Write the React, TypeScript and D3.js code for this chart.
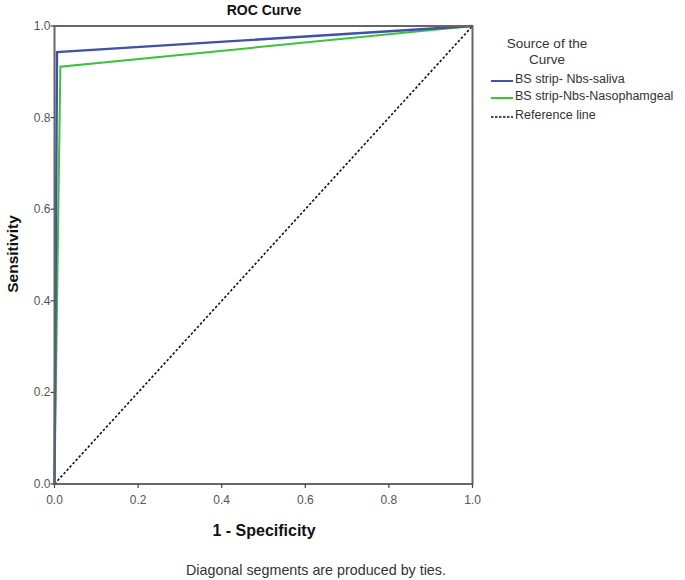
import React from "react";
import * as d3 from "d3";

const ticks = [0, 0.2, 0.4, 0.6, 0.8, 1.0];
const salivaX = [0, 0.006, 1];
const salivaY = [0, 0.943, 1];
const nasoX = [0, 0.014, 1];
const nasoY = [0, 0.911, 1];
const refX = [0, 1];
const refY = [0, 1];
const legendLabels = ["BS strip- Nbs-saliva", "BS strip-Nbs-Nasophamgeal", "Reference line"];
const legendColors = ["#3f51a8", "#3cc23c", "#111"];

export default function App() {
  const W = 685, H = 580;
  const x = d3.scaleLinear().domain([0, 1]).range([54.5, 472.5]);
  const y = d3.scaleLinear().domain([0, 1]).range([484, 26]);
  const line = d3.line<[number, number]>().x(d => x(d[0])).y(d => y(d[1]));
  const pts = (xs: number[], ys: number[]) => xs.map((v, i) => [v, ys[i]] as [number, number]);
  const font = "Liberation Sans, Arial, sans-serif";
  return (
    <svg width={W} height={H} style={{ position: "absolute", left: 0, top: 0, background: "#fff" }} fontFamily={font}>
      <rect x={0} y={0} width={W} height={H} fill="#fff" />
      <text x={264} y={15} textAnchor="middle" fontWeight="bold" fontSize={14} fill="#111">ROC Curve</text>
      {/* curves */}
      <path d={line(pts(refX, refY)) || ""} fill="none" stroke="#111" strokeWidth={1.6} strokeDasharray="2.5,2" />
      <path d={line(pts(nasoX, nasoY)) || ""} fill="none" stroke={legendColors[1]} strokeWidth={2} />
      <path d={line(pts(salivaX, salivaY)) || ""} fill="none" stroke={legendColors[0]} strokeWidth={2.4} />
      {/* frame */}
      <rect x={x(0)} y={y(1)} width={x(1) - x(0)} height={y(0) - y(1)} fill="none" stroke="#666" strokeWidth={2} />
      {ticks.map(t => (
        <g key={"x" + t}>
          <line x1={x(t)} x2={x(t)} y1={y(0)} y2={y(0) + 4} stroke="#444" strokeWidth={1.2} />
          <text x={x(t)} y={y(0) + 20} textAnchor="middle" fontSize={12} fill="#555">{t.toFixed(1)}</text>
        </g>
      ))}
      {ticks.map(t => (
        <g key={"y" + t}>
          <line x1={x(0) - 4} x2={x(0)} y1={y(t)} y2={y(t)} stroke="#444" strokeWidth={1.2} />
          <text x={x(0) - 4} y={y(t) + 4} textAnchor="end" fontSize={12} fill="#555">{t.toFixed(1)}</text>
        </g>
      ))}
      <text x={264} y={536} textAnchor="middle" fontWeight="bold" fontSize={16} fill="#111">1 - Specificity</text>
      <text transform={`translate(18,254) rotate(-90)`} textAnchor="middle" fontWeight="bold" fontSize={15.5} fill="#111">Sensitivity</text>
      <text x={316} y={575} textAnchor="middle" fontSize={14.3} fill="#333">Diagonal segments are produced by ties.</text>
      {/* legend */}
      <text x={547} y={48} textAnchor="middle" fontSize={13.5} fill="#333">Source of the</text>
      <text x={547} y={64} textAnchor="middle" fontSize={13.5} fill="#333">Curve</text>
      {legendLabels.map((l, i) => {
        const ly = [81, 98, 117][i];
        return (
          <g key={l}>
            <line x1={491} x2={513} y1={ly} y2={ly} stroke={legendColors[i]} strokeWidth={i === 2 ? 1.6 : 2} strokeDasharray={i === 2 ? "2.5,1.5" : undefined} />
            <text x={515} y={ly + 2} fontSize={12.5} fill="#333">{l}</text>
          </g>
        );
      })}
    </svg>
  );
}
